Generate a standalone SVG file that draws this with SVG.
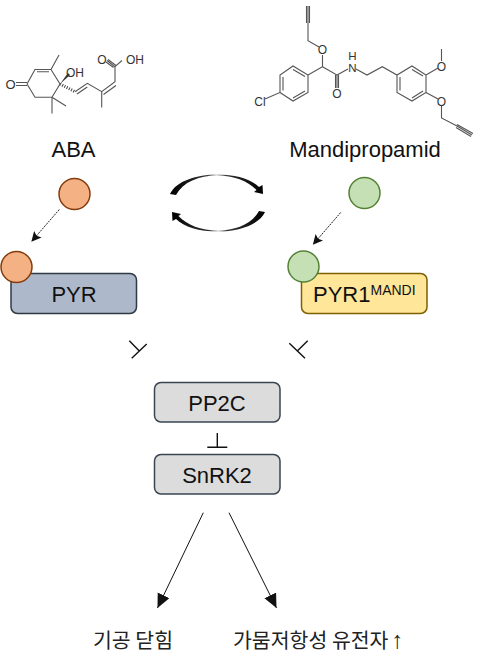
<svg xmlns="http://www.w3.org/2000/svg" width="500" height="663" viewBox="0 0 500 663">
<style>
text{font-family:"Liberation Sans","Noto Sans CJK KR",sans-serif;fill:#111}
.kr{font-family:"Noto Sans CJK KR","Liberation Sans",sans-serif;font-size:20.500px;fill:#222}
.lbl{font-size:22px;text-anchor:middle}
.node{font-size:22px;text-anchor:middle}
.atom{font-size:12px;text-anchor:middle;fill:#333}
.bond{fill:none;stroke:#555;stroke-width:1.100}
.box{stroke-width:1.500}
.grey{fill:#dcdcdc;stroke:#3a4652}
.or{fill:#f4b183;stroke:#843c0c;stroke-width:1.500}
.gr{fill:#c5e0b4;stroke:#548235;stroke-width:1.500}
.ln{fill:none;stroke:#111;stroke-width:1}
.bar{fill:none;stroke:#111;stroke-width:1.400}
.dash{fill:none;stroke:#222;stroke-width:1;stroke-dasharray:2 1}
</style>
<defs>
<marker id="a" markerWidth="12" markerHeight="12" refX="9" refY="5" orient="auto" markerUnits="userSpaceOnUse"><path d="M0 0L10 5L0 10L2 5Z" fill="#111"/></marker>
<marker id="b" markerWidth="16" markerHeight="16" refX="14" refY="6.500" orient="auto" markerUnits="userSpaceOnUse"><path d="M0 0L14 6.500L0 13Z" fill="#111"/></marker>
<linearGradient id="cy" x1="0" x2="1" y1="0" y2="0"><stop offset="0" stop-color="#000"/><stop offset=".4" stop-color="#333"/><stop offset=".5" stop-color="#ccc"/><stop offset=".6" stop-color="#333"/><stop offset="1" stop-color="#000"/></linearGradient>
<path id="cycle" fill="url(#cy)" d="M170 194C176 181 197 174.500 217 174.500C236 174.500 251 179 259 187L262.500 185L263 194L254 192L256.500 190C248 181 234 175.500 217 175.500C199 175.500 183 182 176 195Z"/>
</defs>
<g id="aba-molecule">
<path class="bond" d="M16 82.500H27M16 85.500H27M27 84L35 69.500H51L60 84L52 97.300H35L27 84M37 71.800H49M51 69.500L59 55M52 97.300V113.500M52 97.300L66 106M75 91.700L87.300 83.300L101.700 91.700L115 81.700V66.700L107 60.500M113.500 67.500L106 62M116 65.500L108 59.500M101.700 91.700V107.500M77 94L87.300 87M103.500 94.500L116 85.500M122 60.500L115 66.700"/>
<path d="M60 84L68 73L70 75Z" fill="#333"/>
<path d="M60 84L75 91.700" fill="none" stroke="#444" stroke-width="3" stroke-dasharray="1 1.500"/>
<text class="atom" x="10.500" y="89" style="font-size:13px">O</text><text class="atom" x="75" y="76.500">OH</text><text class="atom" x="102" y="64">O</text><text class="atom" x="135" y="64">OH</text>
</g>
<g id="mandipropamid-molecule">
<path class="bond" d="M265 99L280 92.500V75L293 66L308 75V92.500L293 101L280 92.500M283 90.500V77M293 69.500L305 76.500M305 91L293 98M308 75L322.500 66.700V55M319 47L308 40.700V23M306.500 23V6M308 23V6M309.500 23V6M322.500 66.700L337 75V88M335.500 75V88M338.500 75V88M337 75L348 69M356 69L367 75L382.300 66.700L397 75L412 66L426 75V92.500L412 101L397 92.500V75M400 90.500V77M412 69.500L423 76M423 91L412 98M426 75L438 68M441.500 61V49M426 92.500L438 99M441.500 105V118L457 126L472 135M456 127.500L471 136.500M457 124.500L473 133.500"/>
<text class="atom" x="260" y="106">Cl</text><text class="atom" x="322.500" y="54">O</text><text class="atom" x="337" y="98">O</text><text class="atom" x="352.500" y="72" style="font-size:11.500px">N</text><text class="atom" x="352.500" y="59.500" style="font-size:11.500px">H</text><text class="atom" x="441.500" y="70.500">O</text><text class="atom" x="441.500" y="105.500">O</text>
</g>
<text class="lbl" x="73.500" y="157">ABA</text>
<text class="lbl" x="365" y="157">Mandipropamid</text>
<g id="connectors">
<path class="dash" d="M59.300 209.500L32 241" marker-end="url(#a)"/>
<path class="dash" d="M340.700 212.500L313.500 244" marker-end="url(#a)"/>
<use href="#cycle"/>
<use href="#cycle" transform="rotate(180 217.500 203)"/>
<path class="bar" d="M146.700 344L131.700 358.300M129.300 340.700L139.300 351"/>
<path class="bar" d="M289.300 343.300L305 358.300M307.700 340.700L297.300 351"/>
<path class="bar" d="M207.300 447.300H227.300M217.300 433V447.300"/>
<path class="ln" d="M203.300 512.700L157.500 608" marker-end="url(#b)"/>
<path class="ln" d="M229 512.700L276.500 608" marker-end="url(#b)"/>
</g>
<g id="ABA-ligand"><circle class="or" cx="74.500" cy="194" r="15.500"/></g>
<g id="Mandipropamid-ligand"><circle class="gr" cx="364.500" cy="193" r="15.500"/></g>
<g id="PYR"><rect class="box" x="11" y="273.500" width="125.500" height="40" rx="6.500" fill="#adb9ca" stroke="#2f3a45"/><circle class="or" cx="16.500" cy="267" r="15.500"/><text class="node" x="74" y="302">PYR</text></g>
<g id="PYR1"><rect class="box" x="301.500" y="273.500" width="125.500" height="40" rx="6.500" fill="#ffe699" stroke="#7f6000"/><circle class="gr" cx="303.500" cy="266.500" r="15.500"/><text class="node" x="313" y="302" style="text-anchor:start">PYR1<tspan dy="-7" font-size="14">MANDI</tspan></text></g>
<g id="PP2C"><rect class="box grey" x="154.500" y="382.500" width="125.500" height="39.500" rx="6.500"/><text class="node" x="217" y="410.500">PP2C</text></g>
<g id="SnRK2"><rect class="box grey" x="154.500" y="454.500" width="125.500" height="39.500" rx="6.500"/><text class="node" x="217" y="483">SnRK2</text></g>
<text class="kr" x="93" y="648">기공 닫힘</text>
<text class="kr" x="233" y="648">가뭄저항성 유전자<tspan dx="3" font-size="24" style="font-family:'Liberation Sans',sans-serif">↑</tspan></text>
</svg>
